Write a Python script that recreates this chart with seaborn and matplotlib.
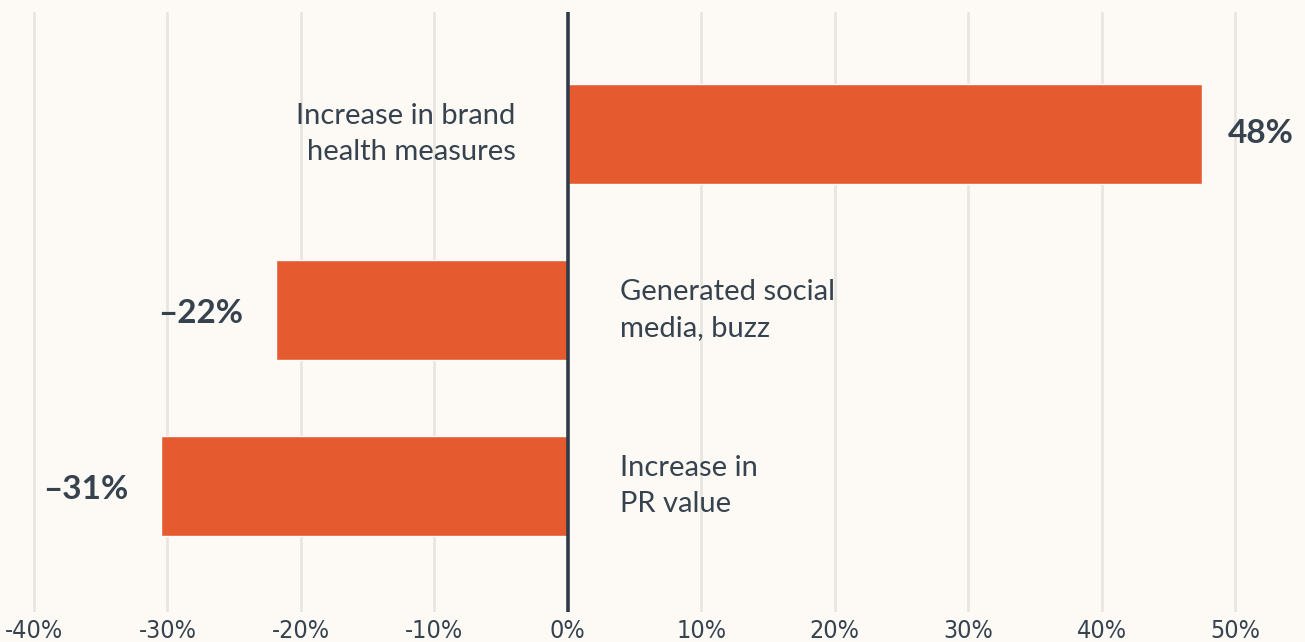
import matplotlib
matplotlib.use("Agg")
import matplotlib.pyplot as plt
import seaborn as sns
import pandas as pd

categories = ["Increase in brand\nhealth measures", "Generated social\nmedia, buzz", "Increase in\nPR value"]
values = [47.5, -21.9, -30.5]
value_labels = ["48%", "\u201322%", "\u201331%"]
tick_values = [-40, -30, -20, -10, 0, 10, 20, 30, 40, 50]
tick_labels = ["-40%", "-30%", "-20%", "-10%", "0%", "10%", "20%", "30%", "40%", "50%"]

BG = "#FDFAF5"
BAR = "#E55A2F"
TEXT = "#36434F"
GRID = "#E9E5DF"

sns.set_theme(style="white")
plt.rcParams["font.family"] = ["Lato", "DejaVu Sans"]

df = pd.DataFrame({"cat": categories, "val": values})

fig = plt.figure(figsize=(13.05, 6.42), dpi=100, facecolor=BG)
ax = fig.add_axes([0, 30 / 642, 1, 600 / 642])
ax.set_facecolor(BG)

sns.barplot(data=df, x="val", y="cat", order=categories, orient="h",
            color=BAR, saturation=1, width=0.568, ax=ax, zorder=3)

ax.set_xlim(-42.55, 55.25)
ax.set_ylim(2.716, -0.693)

for t in tick_values:
    if t != 0:
        ax.axvline(t, color=GRID, lw=2, zorder=1)
ax.axvline(0, color="#2F3B48", lw=2.6, zorder=4)

ax.set_xticks(tick_values)
ax.set_xticklabels(tick_labels, fontsize=18, color=TEXT,
                   family="DejaVu Sans", fontstretch="condensed", fontweight="light")
ax.tick_params(axis="x", length=0, pad=5)
ax.set_yticks([])
ax.set_xlabel("")
ax.set_ylabel("")
for s in ax.spines.values():
    s.set_visible(False)

for i, (cat, v, lab) in enumerate(zip(categories, values, value_labels)):
    if v > 0:
        ax.text(-3.9, i, cat, ha="right", va="center", multialignment="right",
                fontsize=21, color=TEXT, fontweight="normal", linespacing=1.45, zorder=5)
        ax.text(v + 2.0, i, lab, ha="left", va="center", fontsize=24,
                fontweight="bold", color=TEXT, zorder=5)
    else:
        ax.text(3.9, i, cat, ha="left", va="center", multialignment="left",
                fontsize=21, color=TEXT, fontweight="normal", linespacing=1.45, zorder=5)
        ax.text(v - 2.4, i + 0.02, lab, ha="right", va="center", fontsize=24,
                fontweight="bold", color=TEXT, zorder=5)

fig.savefig("out.png", dpi=100, facecolor=BG)
